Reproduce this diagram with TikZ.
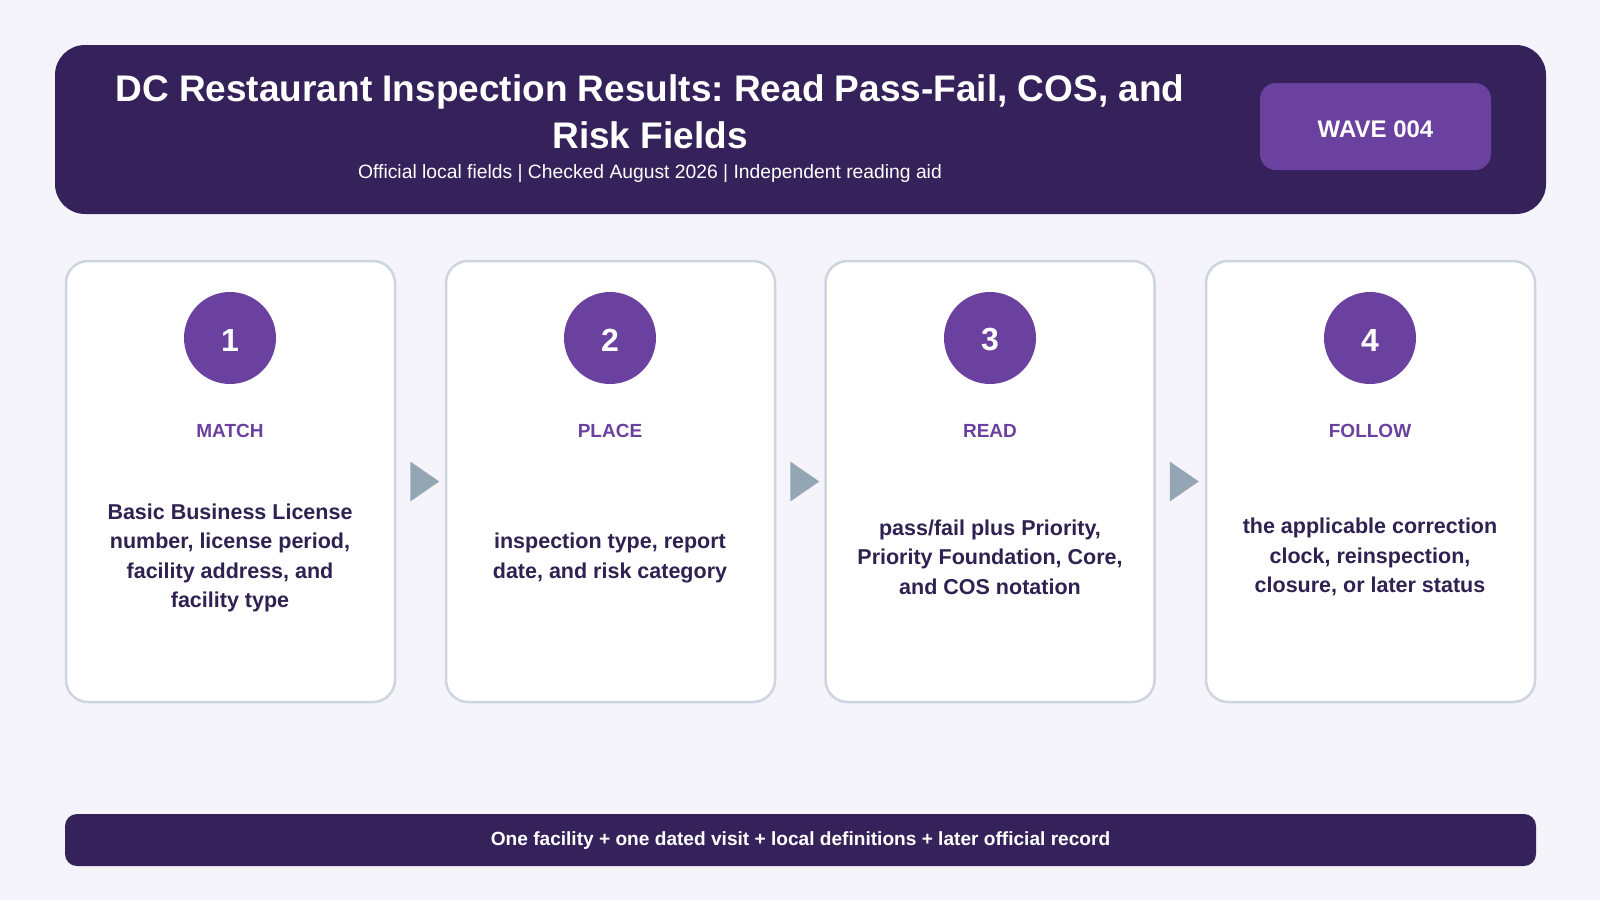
\documentclass[tikz,border=0pt]{standalone}
\usepackage{fontspec}
\setmainfont{Liberation Sans}
\usetikzlibrary{calc}
\frenchspacing
\definecolor{bg}{HTML}{F6F4FB}
\definecolor{hdrc}{HTML}{35225A}
\definecolor{purp}{HTML}{6B41A0}
\definecolor{darktxt}{HTML}{2F2150}
\definecolor{cardline}{HTML}{CDD5E0}
\definecolor{arrowc}{HTML}{94A5B3}
\tikzset{
  header/.style={fill=hdrc, rounded corners=30pt, minimum width=1491pt, minimum height=169pt, inner sep=0pt},
  badge/.style={fill=purp, rounded corners=16pt, minimum width=231pt, minimum height=87pt, inner sep=0pt},
  badgetext/.style={text=white, font=\fontsize{24}{28}\selectfont\bfseries},
  card/.style={fill=white, draw=cardline, line width=2.5pt, rounded corners=22pt, minimum width=329pt, minimum height=441pt},
  numcirc/.style={circle, fill=purp, minimum size=92pt, inner sep=0pt},
  numtext/.style={text=white, font=\fontsize{32}{36}\selectfont\bfseries},
  steplabel/.style={text=purp, font=\fontsize{19}{23}\selectfont\bfseries},
  body/.style={text=darktxt, align=center, font=\fontsize{21.5}{29.5}\selectfont\bfseries},
  footer/.style={fill=hdrc, rounded corners=12pt, minimum width=1471pt, minimum height=52pt},
  footertext/.style={text=white, font=\fontsize{19.1}{24}\selectfont\bfseries},
  flowtri/.style={fill=arrowc}
}
\begin{document}
\begin{tikzpicture}[x=1pt,y=-1pt]
\fill[bg] (0,0) rectangle (1600,900);
\useasboundingbox (0,0) rectangle (1600,900);
\node[header] (hdr) at (800.5,129.5) {};
\node[text=white, align=center, font=\fontsize{37}{47}\selectfont\bfseries] (title) at (650,112) {DC Restaurant Inspection Results: Read Pass-Fail, COS, and\\Risk Fields};
\node[text=white, font=\fontsize{19.3}{23}\selectfont] (sub) at (650,174) {Official local fields | Checked August 2026 | Independent reading aid};
\node[badge] (wave) at (1375.5,126.5) {};
\node[badgetext] (wavet) at (1375.5,129.5) {WAVE 004};

\node[card] (c1) at (230.5,481.5) {};
\node[card] (c2) at (610.5,481.5) {};
\node[card] (c3) at (990,481.5) {};
\node[card] (c4) at (1370.5,481.5) {};

\node[numcirc] (n1) at (230,338) {};
\node[numcirc] (n2) at (610,338) {};
\node[numcirc] (n3) at (990,338) {};
\node[numcirc] (n4) at (1370,338) {};
\node[numtext] (t1) at (230,340) {1};
\node[numtext] (t2) at (610,340) {2};
\node[numtext] (t3) at (990,340) {3};
\node[numtext] (t4) at (1370,340) {4};

\node[steplabel] (l1) at (230,431) {MATCH};
\node[steplabel] (l2) at (610,431) {PLACE};
\node[steplabel] (l3) at (990,431) {READ};
\node[steplabel] (l4) at (1370,431) {FOLLOW};

\node[body] (b1) at (230,558) {Basic Business License\\number, license period,\\facility address, and\\facility type};
\node[body] (b2) at (610,558) {inspection type, report\\date, and risk category};
\node[body] (b3) at (990,557) {pass/fail plus Priority,\\Priority Foundation, Core,\\and COS notation};
\node[body] (b4) at (1370,557) {the applicable correction\\clock, reinspection,\\closure, or later status};

\foreach \a in {c1,c2,c3}{
  \fill[flowtri] ($(\a.east)+(14,-20)$) -- ($(\a.east)+(43,0)$) -- ($(\a.east)+(14,20)$) -- cycle;
}

\node[footer] (foot) at (800.5,840) {};
\node[footertext] (foott) at (800.5,840.5) {One facility + one dated visit + local definitions + later official record};
\end{tikzpicture}
\end{document}
